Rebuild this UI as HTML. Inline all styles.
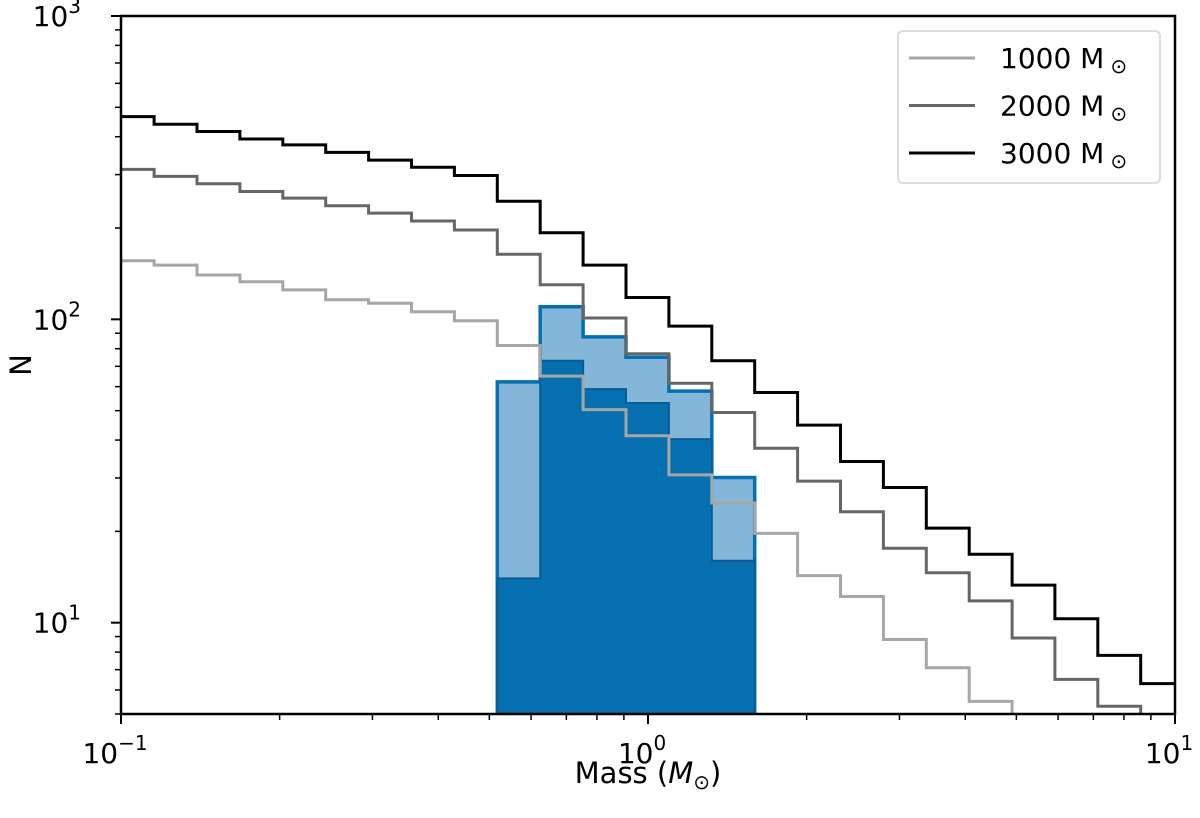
<!DOCTYPE html>
<html><head><meta charset="utf-8">
<style>
html,body{margin:0;padding:0;background:#fff;}
svg{display:block;font-family:"DejaVu Sans","Liberation Sans",sans-serif;}
</style></head>
<body>
<svg id="chart" width="1200" height="818" viewBox="0 0 1200 818" xmlns="http://www.w3.org/2000/svg">
  <g id="plot"></g>
  <g id="axes"></g>
  <g id="legend"></g>
  <text x="648" y="783" font-size="29" text-anchor="middle">Mass (<tspan font-style="italic">M</tspan><tspan font-size="20" dy="6">⊙</tspan><tspan dy="-6">)</tspan></text>
  <text transform="translate(31,365) rotate(-90)" font-size="29" text-anchor="middle">N</text>
</svg>
<script>
// bin edges (log10 mass), first edge and step
const edgeStartLog = -1.0186;
const edgeStepLog = 0.0814;
const nBins = 25;
// series values per bin
const n1000 = [156,151,140,133,125,116,113,106,99,82,65,50.4,41.3,30.7,24.8,19.7,14.3,12.2,8.8,7.1,5.5,4,4,4,4];
const n2000 = [312,296,280,264,251,237,224,211,197,164,130,101,77,61.6,49.3,37.6,29.3,23.2,17.6,14.6,11.8,8.9,6.5,5.3,4];
const n3000 = [466,440,416,393,376,355,335,317,298,245,193,151,118,95,73,57.4,44.8,34,27.9,20.5,16.8,13.3,10.3,7.8,6.3];
// blue histogram bins (indices 9..14)
const blueStartBin = 9;
const blueTotal = [62.2,110,87.5,75,58,30.1];
const blueInner = [14,73,58.9,53,40.3,16];
const xTickVals = [0.1,1,10];
const xTickLabels = ["10","10","10"];
const xTickExps = ["−1","0","1"];
const yTickVals = [10,100,1000];
const yTickExps = ["1","2","3"];

const L=121,R=1175,T=16,B=714;
const xmin=-1,xmax=1,ymin=Math.log10(5.0),ymax=3;
function X(logm){return L+(logm-xmin)/(xmax-xmin)*(R-L);}
function Y(v){return B-(Math.log10(v)-ymin)/(ymax-ymin)*(B-T);}
function edgeX(k){return X(edgeStartLog+edgeStepLog*k);}
const NS="http://www.w3.org/2000/svg";
function mk(tag,attrs,parent){const e=document.createElementNS(NS,tag);for(const k in attrs)e.setAttribute(k,attrs[k]);parent.appendChild(e);return e;}
const plot=document.getElementById('plot');
const defs=mk('defs',{},plot);
const cp=mk('clipPath',{id:'clip'},defs);
mk('rect',{x:L,y:T,width:R-L,height:B-T},cp);
const g=mk('g',{'clip-path':'url(#clip)'},plot);

function stepPath(vals,start){
  let d='';
  for(let i=0;i<vals.length;i++){
    const x0=edgeX(start+i),x1=edgeX(start+i+1),y=Y(vals[i]);
    d+=(i===0?'M':'L')+x0.toFixed(1)+','+y.toFixed(1)+'L'+x1.toFixed(1)+','+y.toFixed(1);
  }
  return d;
}
function barPath(vals,start){
  let d='M'+edgeX(start).toFixed(1)+','+(B+5);
  for(let i=0;i<vals.length;i++){
    const x0=edgeX(start+i),x1=edgeX(start+i+1),y=Y(vals[i]);
    d+='L'+x0.toFixed(1)+','+y.toFixed(1)+'L'+x1.toFixed(1)+','+y.toFixed(1);
  }
  d+='L'+edgeX(start+vals.length).toFixed(1)+','+(B+5)+'Z';
  return d;
}
const outer=mk('path',{d:barPath(blueTotal,blueStartBin),fill:'#84b6d9',stroke:'#0570b0','stroke-width':3.5,'stroke-linejoin':'miter'},g);


const inner=mk('path',{d:barPath(blueInner,blueStartBin),fill:'#066fb0',stroke:'#085d95','stroke-width':2},g);


const series=[[n1000,'#a6a6a6','series-1000'],[n2000,'#666666','series-2000'],[n3000,'#000000','series-3000']];
series.forEach(s=>{
  const p=mk('path',{d:stepPath(s[0],0),fill:'none',stroke:s[1],'stroke-width':3},g);
  
  
});

const axes=document.getElementById('axes');
const frame=mk('rect',{x:L,y:T,width:R-L,height:B-T,fill:'none',stroke:'#000','stroke-width':2.5},axes);


xTickVals.forEach((v,i)=>{
  const x=X(Math.log10(v));
  mk('line',{x1:x,y1:B,x2:x,y2:B+10,stroke:'#000','stroke-width':2},axes);
  const t=mk('text',{x:x-6,y:B+49,'font-size':28,'text-anchor':'middle'},axes);
  
  
  t.textContent=xTickLabels[i];
  const s=mk('tspan',{dy:-13,'font-size':20},t);s.textContent=xTickExps[i];
});
for(let d=-1;d<1;d++){for(let m=2;m<10;m++){
  const x=X(d+Math.log10(m));
  mk('line',{x1:x,y1:B,x2:x,y2:B+6,stroke:'#000','stroke-width':1.5},axes);
}}
yTickVals.forEach((v,i)=>{
  const y=Y(v);
  mk('line',{x1:L-10,y1:y,x2:L,y2:y,stroke:'#000','stroke-width':2},axes);
  const t=mk('text',{x:L-40,y:y+10,'font-size':28,'text-anchor':'end'},axes);
  
  
  t.textContent='10';
  const s=mk('tspan',{dy:-13,'font-size':20},t);s.textContent=yTickExps[i];
});
for(let d=0;d<3;d++){for(let m=1;m<10;m++){
  const lv=d+Math.log10(m);
  if(m===1||lv<ymin)continue;
  const y=Y(Math.pow(10,lv));
  mk('line',{x1:L-6,y1:y,x2:L,y2:y,stroke:'#000','stroke-width':1.5},axes);
}}

const lg=document.getElementById('legend');
const box=mk('rect',{x:898,y:31,width:262,height:152,rx:5,fill:'#fff','fill-opacity':0.8,stroke:'#dcdcdc','stroke-width':2},lg);


const labels=['1000 M','2000 M','3000 M'];
series.forEach((s,i)=>{
  const y=58+i*47.5;
  const ent=mk('g',{},lg);
  
  
  mk('line',{x1:909,y1:y,x2:975,y2:y,stroke:s[1],'stroke-width':3},ent);
  const t=mk('text',{x:1000,y:y+10,'font-size':28},ent);
  t.textContent=labels[i];
  const sp=mk('tspan',{dx:6,dy:5,'font-size':20},t);sp.textContent='⊙';
});
</script>
</body></html>
